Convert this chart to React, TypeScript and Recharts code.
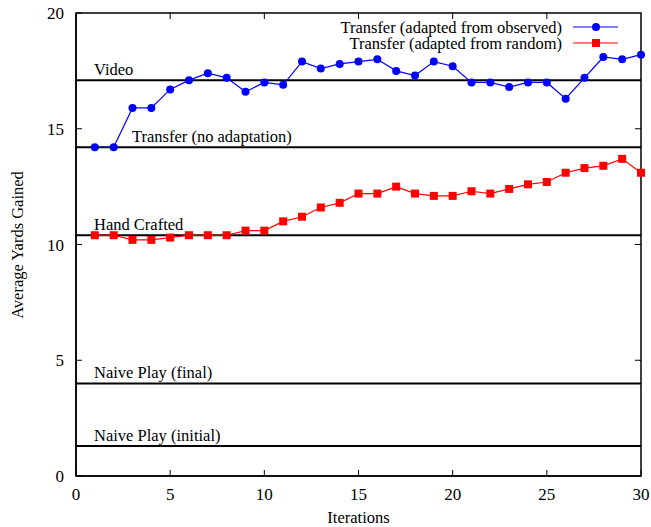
import React from "react";
import {
  LineChart,
  Line,
  XAxis,
  YAxis,
  ReferenceLine,
  ReferenceArea,
  Legend,
} from "recharts";

const iterations = [
  1, 2, 3, 4, 5, 6, 7, 8, 9, 10, 11, 12, 13, 14, 15, 16, 17, 18, 19, 20, 21,
  22, 23, 24, 25, 26, 27, 28, 29, 30,
];

const adaptedFromObserved = [
  14.2, 14.2, 15.9, 15.9, 16.7, 17.1, 17.4, 17.2, 16.6, 17.0, 16.9, 17.9, 17.6,
  17.8, 17.9, 18.0, 17.5, 17.3, 17.9, 17.7, 17.0, 17.0, 16.8, 17.0, 17.0, 16.3,
  17.2, 18.1, 18.0, 18.2,
];

const adaptedFromRandom = [
  10.4, 10.4, 10.2, 10.2, 10.3, 10.4, 10.4, 10.4, 10.6, 10.6, 11.0, 11.2, 11.6,
  11.8, 12.2, 12.2, 12.5, 12.2, 12.1, 12.1, 12.3, 12.2, 12.4, 12.6, 12.7, 13.1,
  13.3, 13.4, 13.7, 13.1,
];

const baselineNames = [
  "Video",
  "Transfer (no adaptation)",
  "Hand Crafted",
  "Naive Play (final)",
  "Naive Play (initial)",
];
const baselineValues = [17.1, 14.2, 10.4, 4.0, 1.3];

const xTicks = [0, 5, 10, 15, 20, 25, 30];
const yTicks = [0, 5, 10, 15, 20];

const data = iterations.map((it, i) => ({
  iter: it,
  observed: adaptedFromObserved[i],
  random: adaptedFromRandom[i],
}));

const X_MAX = 30;
const Y_MAX = 20;

const FONT = "'Liberation Serif', 'Times New Roman', serif";
const tickStyle = { fill: "#000", fontSize: 17, fontFamily: FONT };
const frame = { stroke: "#000", strokeWidth: 1.5 };
const tickMark = { stroke: "#000", strokeWidth: 1 };

// label offsets for the horizontal baselines (Transfer sits further right)
const labelDx = [18, 56, 18, 18, 18];

function RefLabel(props: any) {
  const { viewBox, text, dx } = props;
  if (!viewBox) return null;
  return (
    <text
      x={viewBox.x + dx}
      y={viewBox.y - 5}
      style={{ fontSize: 16.5, fontFamily: FONT }}
      fill="#000"
    >
      {text}
    </text>
  );
}

function YLabel() {
  const cx = 17;
  const cy = 245;
  return (
    <text
      x={cx}
      y={cy}
      transform={`rotate(-90 ${cx} ${cy})`}
      textAnchor="middle"
      dominantBaseline="central"
      style={{ fontSize: 16.5, fontFamily: FONT }}
      fill="#000"
    >
      Average Yards Gained
    </text>
  );
}

function SquareDot(props: any) {
  const { cx, cy, index } = props;
  return (
    <rect key={`sq-${index}`} x={cx - 4} y={cy - 4} width={8} height={8} fill="#ff0000" />
  );
}

// plot box drawn from the area's own rectangle
function BoxShape(props: any) {
  const { x, y, width, height } = props;
  return (
    <rect
      x={x}
      y={y}
      width={width}
      height={height}
      fill="none"
      stroke="#000"
      strokeWidth={1.5}
    />
  );
}

function renderLegend(props: any) {
  const { payload } = props;
  return (
    <svg width={340} height={40}>
      {(payload || []).map((entry: any, i: number) => {
        const y = 13 + i * 16;
        const isRandom = entry.dataKey === "random";
        return (
          <g key={entry.value}>
            <text
              x={262}
              y={y}
              textAnchor="end"
              dominantBaseline="central"
              style={{ fontSize: 16.5, fontFamily: FONT }}
              fill="#000"
            >
              {entry.value}
            </text>
            <line x1={273} x2={318} y1={y} y2={y} stroke={entry.color} strokeWidth={1.2} />
            {isRandom ? (
              <rect x={292} y={y - 4} width={8} height={8} fill={entry.color} />
            ) : (
              <circle cx={296} cy={y} r={4} fill={entry.color} />
            )}
          </g>
        );
      })}
    </svg>
  );
}

export default function App() {
  return (
    <div style={{ position: "absolute", left: 0, top: 0, background: "#fff" }}>
      <LineChart
        width={651}
        height={527}
        data={data}
        margin={{ top: 13, right: 10, left: 0, bottom: 0 }}
      >
        <XAxis
          dataKey="iter"
          type="number"
          domain={[0, X_MAX]}
          ticks={xTicks}
          height={51}
          tickSize={-6}
          tickMargin={18}
          tick={tickStyle}
          axisLine={frame}
          tickLine={tickMark}
          label={{
            value: "Iterations",
            position: "insideBottom",
            offset: 4,
            fill: "#000",
            fontSize: 16.5,
            fontFamily: FONT,
          }}
        />
        <YAxis
          type="number"
          domain={[0, Y_MAX]}
          ticks={yTicks}
          width={76}
          tickSize={-6}
          tickMargin={18}
          tick={tickStyle}
          axisLine={frame}
          tickLine={tickMark}
          label={<YLabel />}
        />
        <ReferenceArea
          x1={0}
          x2={X_MAX}
          y1={0}
          y2={Y_MAX}
          ifOverflow="visible"
          shape={<BoxShape />}
        />
        {xTicks.slice(1, -1).map((t) => (
          <ReferenceLine
            key={`tx-${t}`}
            ifOverflow="visible"
            segment={[
              { x: t, y: Y_MAX },
              { x: t, y: Y_MAX - 0.26 },
            ]}
            stroke="#000"
            strokeWidth={1}
          />
        ))}
        {yTicks.slice(1, -1).map((t) => (
          <ReferenceLine
            key={`ty-${t}`}
            ifOverflow="visible"
            segment={[
              { x: X_MAX, y: t },
              { x: X_MAX - 0.32, y: t },
            ]}
            stroke="#000"
            strokeWidth={1}
          />
        ))}
        {baselineValues.map((v, i) => (
          <ReferenceLine
            key={baselineNames[i]}
            y={v}
            stroke="#000"
            strokeWidth={2}
            label={<RefLabel text={baselineNames[i]} dx={labelDx[i]} />}
          />
        ))}
        <Legend
          layout="horizontal"
          verticalAlign="middle"
          align="center"
          content={renderLegend}
          wrapperStyle={{ position: "absolute", top: 14, left: 300, width: 340, height: 40 }}
        />
        <Line
          dataKey="observed"
          name="Transfer (adapted from observed)"
          stroke="#0000ff"
          strokeWidth={1.2}
          dot={{ r: 4, fill: "#0000ff", stroke: "#0000ff", strokeWidth: 0 }}
          isAnimationActive={false}
        />
        <Line
          dataKey="random"
          name="Transfer (adapted from random)"
          stroke="#ff0000"
          strokeWidth={1.2}
          dot={<SquareDot />}
          isAnimationActive={false}
        />
      </LineChart>
    </div>
  );
}
